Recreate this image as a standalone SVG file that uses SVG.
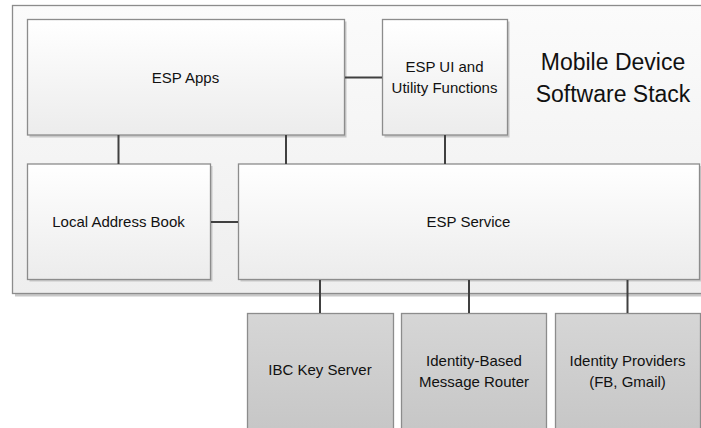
<svg xmlns="http://www.w3.org/2000/svg" width="701" height="428" viewBox="0 0 701 428">
<defs>
<linearGradient id="gOuter" x1="0" y1="0" x2="0" y2="1"><stop offset="0" stop-color="#fbfbfb"/><stop offset="1" stop-color="#eeeeee"/></linearGradient>
<linearGradient id="gBox" x1="0" y1="0" x2="0" y2="1"><stop offset="0" stop-color="#ffffff"/><stop offset="1" stop-color="#ececec"/></linearGradient>
<linearGradient id="gExt" x1="0" y1="0" x2="0" y2="1"><stop offset="0" stop-color="#d6d6d6"/><stop offset="1" stop-color="#c6c6c6"/></linearGradient>
</defs>
<style>
.sh{fill:#c8c8c8;stroke:none}
.box{fill:url(#gBox);stroke:#8c8c8c;stroke-width:1.3}
.ext{fill:url(#gExt);stroke:#8c8c8c;stroke-width:1.3}
.outer{fill:url(#gOuter);stroke:#8c8c8c;stroke-width:1.3}
text{font-family:"Liberation Sans",Arial,sans-serif;font-size:15px;fill:#111;text-anchor:middle}
.title{font-size:23px}
.conn line{stroke:#404040;stroke-width:2}
</style>
<g id="container">
<rect class="sh" x="15" y="8" width="700" height="288.5"/>
<rect class="outer" x="12.5" y="5.5" width="700" height="288"/>
<text class="title" x="613" y="70">Mobile Device</text>
<text class="title" x="613" y="101.5">Software Stack</text>
</g>
<g id="esp-apps">
<rect class="sh" x="29.5" y="21.5" width="317" height="116"/>
<rect class="box" x="27.5" y="19.5" width="317" height="115.5"/>
<text x="185.5" y="83">ESP Apps</text>
</g>
<g id="esp-ui">
<rect class="sh" x="384.5" y="21.5" width="125" height="116"/>
<rect class="box" x="382.5" y="19.5" width="125" height="115.5"/>
<text x="444.5" y="72">ESP UI and</text>
<text x="444.5" y="93">Utility Functions</text>
</g>
<g id="local-address-book">
<rect class="sh" x="29.5" y="166" width="183" height="115.5"/>
<rect class="box" x="27.5" y="164" width="183" height="115.5"/>
<text x="118.5" y="227">Local Address Book</text>
</g>
<g id="esp-service">
<rect class="sh" x="240.5" y="166" width="461" height="115.5"/>
<rect class="box" x="238.5" y="164" width="461" height="115.5"/>
<text x="468.5" y="227">ESP Service</text>
</g>
<g id="ibc-key-server">
<rect class="ext" x="247.5" y="313.5" width="146" height="120"/>
<text x="320" y="375">IBC Key Server</text>
</g>
<g id="message-router">
<rect class="ext" x="401.5" y="313.5" width="145" height="120"/>
<text x="474" y="366">Identity-Based</text>
<text x="474" y="387">Message Router</text>
</g>
<g id="identity-providers">
<rect class="ext" x="555.5" y="313.5" width="145" height="120"/>
<text x="627.5" y="366">Identity Providers</text>
<text x="627.5" y="387">(FB, Gmail)</text>
</g>
<g id="connectors" class="conn">
<line x1="345" y1="77.5" x2="382" y2="77.5"/>
<line x1="118.5" y1="135" x2="118.5" y2="164"/>
<line x1="286" y1="135" x2="286" y2="164"/>
<line x1="445" y1="135" x2="445" y2="164"/>
<line x1="211" y1="222" x2="238" y2="222"/>
<line x1="320" y1="280" x2="320" y2="313"/>
<line x1="469" y1="280" x2="469" y2="313"/>
<line x1="627.5" y1="280" x2="627.5" y2="313"/>
</g>
</svg>
